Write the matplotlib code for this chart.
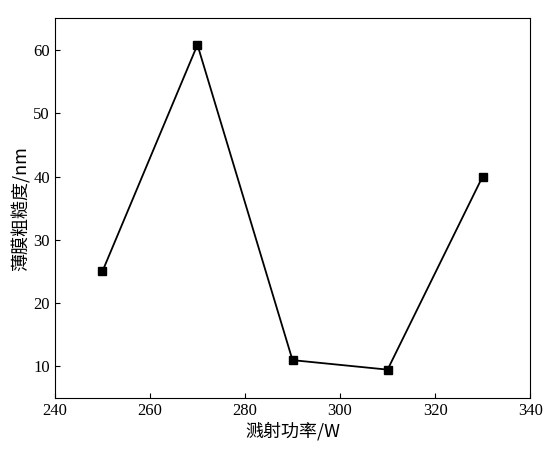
import matplotlib
matplotlib.use('Agg')
import matplotlib.pyplot as plt

power = [250, 270, 290, 310, 330]
roughness = [25.0, 60.8, 11.0, 9.5, 40.0]

plt.rcParams['font.family'] = ['Liberation Serif', 'Noto Sans CJK SC']

fig = plt.figure(figsize=(5.54, 4.55), dpi=100)
ax = fig.add_axes([0.099, 0.125, 0.858, 0.835])
ax.plot(power, roughness, color='black', lw=1.3, marker='s', ms=6)
ax.set_xlim(240, 340)
ax.set_ylim(5, 65)
ax.set_xticks(range(240, 341, 20))
ax.set_yticks(range(10, 61, 10))
ax.tick_params(direction='in', labelsize=12)
ax.set_xlabel('溅射功率/W', fontsize=13, labelpad=2,
              family=['Noto Sans CJK SC', 'Liberation Serif'])
ax.set_ylabel('薄膜粗糙度/nm', fontsize=13, labelpad=2,
              family=['Noto Sans CJK SC', 'Liberation Serif'])
fig.savefig('out.png')
